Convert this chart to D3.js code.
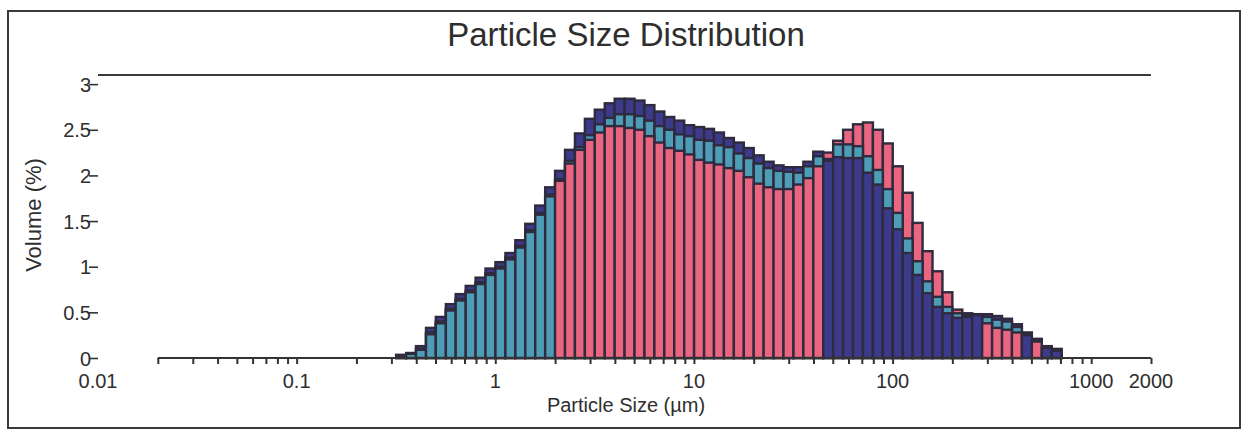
<!DOCTYPE html>
<html>
<head>
<meta charset="utf-8">
<script src="https://cdn.jsdelivr.net/npm/d3@7"></script>
<style>
  html, body { margin: 0; padding: 0; background: #ffffff; }
  svg { display: block; font-family: "Liberation Sans", Arial, sans-serif; }
</style>
</head>
<body>
<svg id="chart" width="1244" height="432"></svg>
<script>
// Size class edges (µm): lower edge of each class plus final upper edge
const sizeEdges = [0.317,0.356,0.399,0.448,0.502,0.564,0.632,0.710,0.796,
  0.893,1.002,1.125,1.262,1.416,1.589,1.783,2.000,2.244,2.518,
  2.825,3.170,3.557,3.991,4.477,5.024,5.637,6.325,7.096,7.962,
  8.934,10.02,11.25,12.62,14.16,15.89,17.83,20.00,22.44,25.18,
  28.25,31.70,35.57,39.91,44.77,50.24,56.37,63.25,70.96,79.62,
  89.34,100.2,112.5,126.2,141.6,158.9,178.3,200.0,224.4,251.8,
  282.5,317.0,355.7,399.1,447.7,502.4,563.7,632.5,709.6];

// Volume (%) per size class, three overlaid records
const tealSeries = [0.025,0.045,0.09,0.26,0.38,0.52,0.63,0.72,0.81,0.91,0.98,1.08,1.21,1.38,1.57,1.77,
  1.96,2.16,2.31,2.44,2.56,2.63,2.67,2.67,2.65,2.60,2.54,2.50,2.45,2.43,2.39,2.38,2.33,2.31,2.24,2.19,2.13,2.08,2.05,2.04,2.03,2.10,2.21,
  2.18,2.34,2.34,2.32,2.21,2.06,1.85,1.59,1.31,1.06,0.84,0.67,
  0.56,0.49,0.47,0.48,0.45,0.42,0.40,0.34,0.27,0.20,0.12,0.09];

const pinkSeries = [0.03,0.05,0.10,0.28,0.40,0.54,0.65,0.74,0.83,0.93,1.00,1.10,1.23,1.40,1.59,1.79,
  1.94,2.13,2.28,2.39,2.47,2.54,2.54,2.52,2.50,2.43,2.36,2.30,2.27,2.23,2.17,2.14,2.12,2.08,2.05,1.98,1.91,1.87,1.85,1.85,1.90,1.97,2.10,
  2.25,2.38,2.50,2.56,2.58,2.50,2.35,2.10,1.81,1.48,1.17,0.95,
  0.72,0.53,0.49,0.48,0.38,0.33,0.31,0.28,0.28,0.18,0.13,0.10];

const navySeries = [0.035,0.055,0.13,0.33,0.45,0.59,0.70,0.79,0.88,0.98,1.05,1.15,1.29,1.47,1.67,1.87,
  2.05,2.28,2.46,2.62,2.72,2.79,2.84,2.84,2.82,2.77,2.70,2.64,2.60,2.55,2.53,2.51,2.47,2.41,2.36,2.30,2.22,2.15,2.11,2.09,2.09,2.15,2.26,
  2.16,2.20,2.19,2.19,2.03,1.90,1.64,1.41,1.15,0.91,0.71,0.56,
  0.49,0.44,0.45,0.47,0.48,0.46,0.43,0.37,0.25,0.21,0.11,0.08];

const xTickLabels = ["0.01","0.1","1","10","100","1000","2000"];
const yTickValues = [0, 0.5, 1, 1.5, 2, 2.5, 3];

const seriesList = [
  { name: "A", values: tealSeries, color: "#4d9db7" },
  { name: "B", values: pinkSeries, color: "#ea6580" },
  { name: "C", values: navySeries, color: "#3c3a8a" }
];

const svg = d3.select("#chart");
const textColor = "#2e2e2e";
const outline = "#2f2a3e";

// outer frame
svg.append("rect").attr("x", 8).attr("y", 11).attr("width", 1232).attr("height", 417)
  .attr("fill", "none").attr("stroke", "#3a3a3a").attr("stroke-width", 2);

const x = d3.scaleLog().domain([0.01, 2000]).range([98, 1151]);
const y = d3.scaleLinear().domain([0, 3.1]).range([358, 75]);

// title
svg.append("text").attr("x", 626).attr("y", 46).attr("text-anchor", "middle")
  .attr("font-size", 33).attr("fill", textColor).text("Particle Size Distribution");

// top line
svg.append("line").attr("x1", x(0.01)).attr("x2", x(2000)).attr("y1", y(3.1)).attr("y2", y(3.1))
  .attr("stroke", "#3a3a3a").attr("stroke-width", 2);

// bars: per size class, taller records behind, smaller in front
const barRecords = [];
for (let i = 0; i < sizeEdges.length - 1; i++) {
  const items = seriesList.map(s => ({ i, v: s.values[i], color: s.color }));
  items.sort((a, b) => b.v - a.v);
  items.forEach((it, order) => barRecords.push({ ...it, order }));
}
barRecords.sort((a, b) => a.order - b.order);

svg.append("g").selectAll("rect").data(barRecords).join("rect")
  .attr("x", d => x(sizeEdges[d.i]))
  .attr("width", d => x(sizeEdges[d.i + 1]) - x(sizeEdges[d.i]))
  .attr("y", d => y(d.v))
  .attr("height", d => y(0) - y(d.v))
  .attr("fill", d => d.color)
  .attr("stroke", outline)
  .attr("stroke-width", 2.4);

// x axis line with ticks at 1..9 multiples from 0.02 to 2000
const xTicks = [];
for (let e = -2; e <= 3; e++) {
  for (let m = 1; m <= 9; m++) {
    const v = m * Math.pow(10, e);
    if (v >= 0.0199 && v <= 2000.1) xTicks.push(+v.toPrecision(3));
  }
}
const xAxis = d3.axisBottom(x).tickValues(xTicks).tickSize(6).tickSizeOuter(0).tickFormat("");
const gx = svg.append("g").attr("transform", `translate(0,${y(0)})`).call(xAxis);
gx.select(".domain").attr("d", `M${x(0.02)},0H${x(2000)}`).attr("stroke", "#333").attr("stroke-width", 2);
gx.selectAll(".tick line").attr("stroke", "#333").attr("stroke-width", 2);

// x tick labels
svg.append("g").selectAll("text").data(xTickLabels).join("text")
  .attr("x", d => x(+d)).attr("y", 388).attr("text-anchor", "middle")
  .attr("font-size", 20).attr("fill", textColor).text(d => d);

// x axis title
svg.append("text").attr("x", 626).attr("y", 412).attr("text-anchor", "middle")
  .attr("font-size", 20).attr("fill", textColor).text("Particle Size (µm)");

// y ticks and labels (no axis line)
const yAxis = d3.axisLeft(y).tickValues(yTickValues).tickSize(9).tickPadding(0).tickFormat(d => String(d));
const gy = svg.append("g").attr("transform", `translate(98,0)`).call(yAxis);
gy.select(".domain").remove();
gy.selectAll(".tick line").attr("stroke", "#333").attr("stroke-width", 1.6);
gy.selectAll(".tick text").attr("font-size", 20).attr("fill", textColor)
  .attr("font-family", '"Liberation Sans", Arial, sans-serif').attr("dy", "0.36em").attr("x", -7);

// y axis title
svg.append("text").attr("transform", "translate(41,215) rotate(-90)").attr("text-anchor", "middle")
  .attr("font-size", 22).attr("fill", textColor).text("Volume (%)");
</script>
</body>
</html>
